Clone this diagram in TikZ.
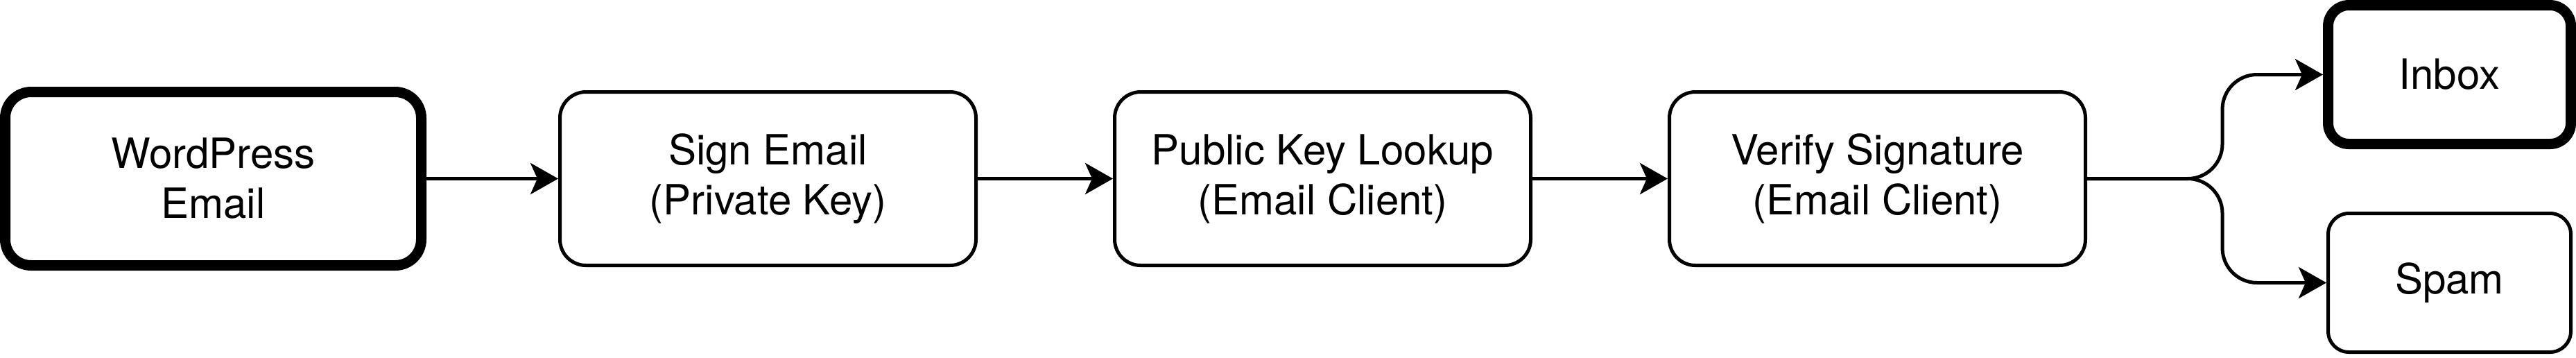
\documentclass[tikz,border=0pt]{standalone}
\usepackage{fontspec}
\setmainfont{TeX Gyre Heros}
\usetikzlibrary{arrows.meta}
\begin{document}
\begin{tikzpicture}[x=1pt,y=1pt,
  box/.style={draw, line width=1pt, rounded corners=7.5pt, minimum width=120pt, minimum height=50pt, inner sep=0pt, align=center, font=\fontsize{12}{14.4}\selectfont},
  thickbox/.style={box, line width=3pt},
  smallbox/.style={box, minimum width=70pt, minimum height=40pt, rounded corners=6pt},
  conn/.style={line width=1pt, -{Stealth[length=8pt,width=9pt,inset=2pt]}}]
\useasboundingbox (0,0) rectangle (743,103);
\node[thickbox] (wp) at (61.5,51.5) {WordPress\\Email};
\node[box] (sign) at (221.5,51.5) {Sign Email\\(Private Key)};
\node[box] (lookup) at (381.5,51.5) {Public Key Lookup\\(Email Client)};
\node[box] (verify) at (541.5,51.5) {Verify Signature\\(Email Client)};
\node[smallbox, line width=3pt] (inbox) at (706.5,81.5) {Inbox};
\node[smallbox] (spam) at (706.5,21.5) {Spam};
\coordinate (br) at (641,51.5);
\draw[conn] (wp) -- (sign);
\draw[conn] (sign) -- (lookup);
\draw[conn] (lookup) -- (verify);
\draw[conn, rounded corners=10pt] (verify.east) -- (br) |- (inbox.west);
\draw[conn, rounded corners=10pt] (verify.east) -- (br) |- (spam.west);
\end{tikzpicture}
\end{document}
